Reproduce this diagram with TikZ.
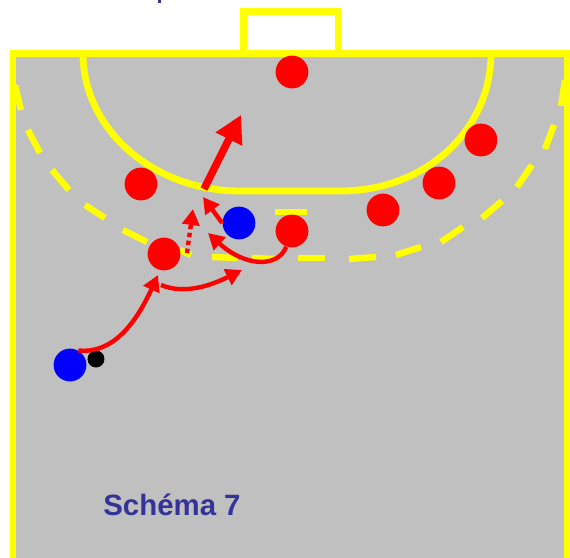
\documentclass[tikz,border=0pt]{standalone}
\usepackage{fontspec}
\setmainfont{Liberation Sans}
\usetikzlibrary{arrows.meta}
\definecolor{court}{HTML}{C0C0C0}
\definecolor{linecol}{HTML}{FFFF00}
\definecolor{titlecol}{HTML}{333399}
\begin{document}
\begin{tikzpicture}[x=0.5pt,y=-0.5pt,
  mark line/.style={draw=linecol,line width=3.4pt},
  dash line/.style={draw=linecol,line width=3.2pt},
  player/.style={circle,minimum size=16.4pt,inner sep=0pt},
  run/.style={draw=red,line width=2.2pt,-{Triangle[length=8pt,width=8.5pt]}},
  run big/.style={draw=red,line width=3.8pt,-{Triangle[length=13.5pt,width=14pt]}}]
\useasboundingbox (0,0) rectangle (570,558);
% court
\fill[court] (13,53) rectangle (567,558);
\fill[titlecol] (158,0) rectangle (161,3);
\draw[mark line,miter limit=4] (13,558) -- (13,53.5) -- (567,53.5) -- (567,558);
\draw[mark line] (243.5,53.5) -- (243.5,11.5) -- (338,11.5) -- (338,53.5);
% 6m line
\draw[mark line] (83,53.5) .. controls (83,129) and (153,191) .. (240,191) -- (340,191)
  .. controls (427,191) and (491,129) .. (491,53.5);
% 9m line, one dash at a time
\foreach \ax/\ay/\bx/\by in {15/85/21/110, 28/130/40/153, 52/170/69/190, 85/205/105/218, 123/230/147/242,
  180/250/191/255, 212/257/238/258, 252/258/277/259, 298/258/325/258, 349/259/376/257, 396/255/421/247,
  441/242/463/227, 482/218/502/201, 517/187/532/165, 545/149/554/125, 561/106/565/80, 275/212/307/212}
  \draw[dash line] (\ax,\ay) -- (\bx,\by);
% players
\node[player,fill=red] (gk) at (292,72) {};
\node[player,fill=red] (defa) at (141,184) {};
\node[player,fill=red] (defb) at (164,254) {};
\node[player,fill=red] (defc) at (292,231) {};
\node[player,fill=red] (defd) at (383,210) {};
\node[player,fill=red] (defe) at (439,183) {};
\node[player,fill=red] (deff) at (481,140) {};
\node[player,fill=blue] (atta) at (239,223) {};
\node[player,fill=blue] (attb) at (70,365) {};
\node[circle,fill=black,minimum size=8.5pt,inner sep=0pt] (ball) at (96,359) {};
% arrows
\coordinate (tipa) at (158,275);
\coordinate (froma) at (161,285);
\coordinate (tipb) at (242,270);
\coordinate (tipc) at (208,233);
\coordinate (tipd) at (203,197);
\coordinate (frome) at (187,253);
\coordinate (tipe) at (193,209);
\coordinate (fromf) at (204,189);
\coordinate (tipf) at (241,115);
\draw[run] (attb.60) .. controls (112,354) and (135,325) .. (tipa);
\draw[run] (froma) .. controls (185,295) and (212,285) .. (tipb);
\draw[run] (defc.250) .. controls (278,268) and (245,267) .. (tipc);
\draw[run] (atta.west) -- (tipd);
\draw[run,dash pattern=on 2.2pt off 1.8pt] (frome) -- (tipe);
\draw[run big] (fromf) -- (tipf);
\node[font=\fontsize{14.7}{16}\selectfont\bfseries,text=titlecol] (title) at (172,505) {Schéma 7};
\end{tikzpicture}
\end{document}
